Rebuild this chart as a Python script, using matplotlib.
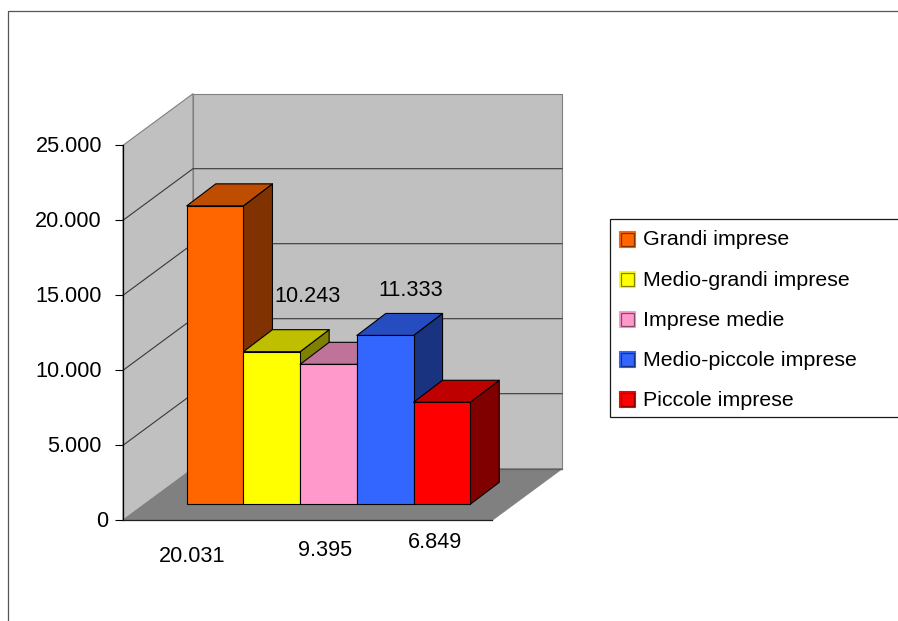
import matplotlib
matplotlib.use('Agg')
import matplotlib.pyplot as plt
from matplotlib.patches import Polygon, Rectangle
from matplotlib.transforms import Affine2D

plt.rcParams['font.family'] = ['Liberation Sans', 'DejaVu Sans']

## data ##
categories = ['Grandi imprese', 'Medio-grandi imprese', 'Imprese medie', 'Medio-piccole imprese', 'Piccole imprese']
values = [20031, 10243, 9395, 11333, 6849]
value_labels = ['20.031', '10.243', '9.395', '11.333', '6.849']
y_ticks = [0, 5000, 10000, 15000, 20000, 25000]
y_tick_labels = ['0', '5.000', '10.000', '15.000', '20.000', '25.000']

front_colors = ['#FF6600', '#FFFF00', '#FF99CC', '#3366FF', '#FF0000']
top_colors = ['#BF4D00', '#BFBF00', '#BF7399', '#264DBF', '#BF0000']
side_colors = ['#803300', '#808000', '#804D66', '#1A3380', '#800000']

## layout, the unit of x is one category and y is the value ##
W, H = 898, 621
x_left, x_right, y_base, y_top = 123, 492, 520.3, 145.3
xmax = 5
ymax = 25000
px_x = xmax / (x_right - x_left)     #data units for 1 pixel
px_y = ymax / (y_base - y_top)
depth_x = 70 * px_x      #wall depth
depth_y = 51.6 * px_y
bar_w = 56.7 * px_x
bar_dx = 29 * px_x       #bar depth
bar_dy = 22 * px_y
bar_bottom = 16 * px_y
bar_shift = 21 * px_x
bar_scale = 0.9933       #bars sit further back so they come out a bit shorter
num_size = 15.6
legend_size = 15.4

fig = plt.figure(figsize=(W / 100, H / 100), dpi=100)
ax = fig.add_axes([x_left / W, 1 - y_base / H, (x_right - x_left) / W, (y_base - y_top) / H])
ax.set_xlim(0, xmax)
ax.set_ylim(0, ymax)
ax.patch.set_visible(False)
px = Affine2D().scale(1, -1).translate(0, H)     #pixel positions from the top left corner


def poly(points, face, edge, lw=0.8, z=1):
    ax.add_patch(Polygon(points, closed=True, facecolor=face, edgecolor=edge, linewidth=lw, clip_on=False, zorder=z, joinstyle='round'))


## walls and floor ##
poly([(0, 0), (depth_x, depth_y), (depth_x, ymax + depth_y), (0, ymax)], '#C0C0C0', '#808080')
poly([(depth_x, depth_y), (xmax + depth_x, depth_y), (xmax + depth_x, ymax + depth_y), (depth_x, ymax + depth_y)], '#C0C0C0', '#808080')
poly([(0, 0), (xmax, 0), (xmax + depth_x, depth_y), (depth_x, depth_y)], '#808080', '#808080')

## gridlines ##
for t in y_ticks[1:-1]:
    ax.plot([0, depth_x, xmax + depth_x], [t, t + depth_y, t + depth_y], color='#383838', lw=0.8, clip_on=False, zorder=2)
ax.plot([depth_x, xmax + depth_x], [depth_y, depth_y], color='#606060', lw=0.9, clip_on=False, zorder=2)

## bars, left to right so the next one covers the side of the last ##
x0 = xmax / 2 + bar_shift - bar_w * len(values) / 2
for i, v in enumerate(values):
    z = 3 + i
    left = x0 + i * bar_w
    right = left + bar_w
    top = bar_bottom + v * bar_scale
    poly([(right, bar_bottom), (right + bar_dx, bar_bottom + bar_dy), (right + bar_dx, top + bar_dy), (right, top)], side_colors[i], 'black', z=z)
    poly([(left, top), (right, top), (right + bar_dx, top + bar_dy), (left + bar_dx, top + bar_dy)], top_colors[i], 'black', z=z)
    ax.bar(left, v * bar_scale, width=bar_w, bottom=bar_bottom, align='edge', color=front_colors[i], edgecolor='black', linewidth=0.8, clip_on=False, zorder=z)

## axes ##
for s in ['top', 'right']:
    ax.spines[s].set_visible(False)
ax.spines['left'].set_linewidth(0.9)
ax.spines['bottom'].set_linewidth(0.9)
ax.spines['bottom'].set_color('#202020')
ax.spines['left'].set_zorder(2.5)
ax.spines['bottom'].set_zorder(2.5)
ax.set_xticks([])
ax.set_yticks(y_ticks)
ax.set_yticklabels(y_tick_labels, fontsize=num_size)
ax.tick_params(axis='y', length=5.8, width=0.8, pad=9.4)
for lab in ax.get_yticklabels():
    shift = 6 if lab.get_text() == '0' else 0
    lab.set_transform(lab.get_transform() + Affine2D().translate(shift, 1.5))

## value labels, they sit at odd places in the original ##
label_pos = [(192, 557), (308, 297), (325, 551), (411, 291), (435, 543)]
for s, (lx, ly) in zip(value_labels, label_pos):
    ax.text(lx, ly, s, transform=px, fontsize=num_size, ha='center', va='center', color='black', clip_on=False, zorder=20)

## legend ##
fig.add_artist(Rectangle((610, 218.5), 300, 198.5, transform=px, facecolor='white', edgecolor='#1a1a1a', linewidth=0.9))
for i, name in enumerate(categories):
    yc = 239 + i * 40
    fig.add_artist(Rectangle((619, yc - 8), 16, 16, transform=px, facecolor=front_colors[i], edgecolor=front_colors[i], linewidth=0.8))
    fig.add_artist(Rectangle((620.5, yc - 6.5), 13, 13, transform=px, facecolor=front_colors[i], edgecolor=side_colors[i], linewidth=0.9))
    fig.text(643 / W, 1 - (yc + 1) / H, name, fontsize=legend_size, ha='left', va='center', color='black')

## outer frame, only top and left are in the picture ##
fig.add_artist(plt.Line2D([8, 8, W], [H, 11, 11], transform=px, color='#555555', linewidth=0.9))

plt.savefig('out.png', dpi=100)
